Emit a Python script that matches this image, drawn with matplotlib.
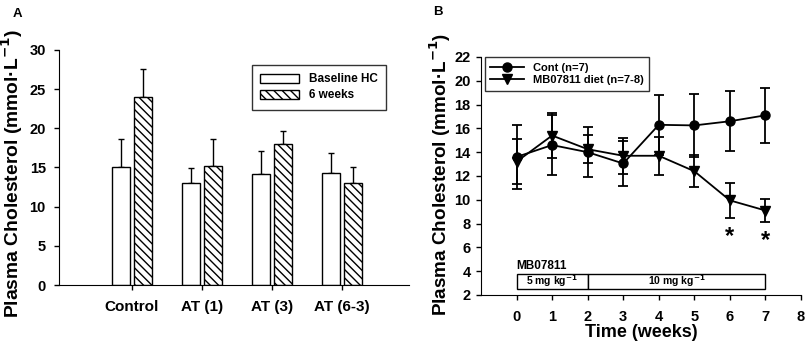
import matplotlib
matplotlib.use("Agg")
import matplotlib.pyplot as plt
import numpy as np
from matplotlib.patches import Rectangle
from matplotlib.lines import Line2D

plt.rcParams['font.family'] = ['Liberation Sans', 'DejaVu Sans']
plt.rcParams['font.weight'] = 'bold'
plt.rcParams['hatch.linewidth'] = 1.0

# Panel A data
groups = ["Control", "AT (1)", "AT (3)", "AT (6-3)"]
baseline = [15.0, 13.0, 14.2, 14.3]
baseline_err = [3.7, 1.9, 2.9, 2.5]
six_weeks = [24.0, 15.2, 18.0, 13.0]
six_weeks_err = [3.6, 3.4, 1.6, 2.0]

# Panel B data
weeks = [0, 1, 2, 3, 4, 5, 6, 7]
cont = [13.6, 14.6, 14.0, 13.05, 16.3, 16.25, 16.6, 17.1]
cont_err = [2.7, 2.5, 2.1, 1.9, 2.5, 2.65, 2.5, 2.3]
mb = [13.2, 15.4, 14.25, 13.7, 13.7, 12.4, 9.95, 9.1]
mb_err = [1.9, 1.9, 1.2, 1.5, 1.6, 1.35, 1.45, 0.95]
sig_weeks = [6, 7]
sig_y = [6.9, 6.6]

ylabel = "Plasma Cholesterol (mmol·L$^{\\mathbf{-1}}$)"

fig = plt.figure(figsize=(8.07, 3.41), dpi=100)

# ---------- Panel A ----------
axA = fig.add_axes([0.0731, 0.1642, 0.4337, 0.6892])
x = np.arange(1, len(groups) + 1)
w = 0.25
off = 0.155
axA.bar(x - off, baseline, width=w, color='white', edgecolor='black', linewidth=1.0, zorder=2,
        label='Baseline HC')
axA.bar(x + off, six_weeks, width=w, color='white', edgecolor='black', linewidth=1.0, hatch='\\\\\\\\',
        zorder=2, label='6 weeks')
axA.errorbar(x - off, baseline, yerr=[np.zeros(len(x)), baseline_err], fmt='none', ecolor='black',
             elinewidth=1.0, capsize=2.5, capthick=1.0, zorder=1)
axA.errorbar(x + off, six_weeks, yerr=[np.zeros(len(x)), six_weeks_err], fmt='none', ecolor='black',
             elinewidth=1.0, capsize=2.5, capthick=1.0, zorder=1)
axA.set_xlim(-0.043, 4.957)
axA.set_ylim(0, 30)
axA.set_yticks(range(0, 31, 5))
axA.set_xticks(x)
axA.set_xticklabels(groups)
for s in ['top', 'right']:
    axA.spines[s].set_visible(False)
axA.tick_params(axis='both', direction='out', length=3.5, width=1.0, labelsize=10.5)
axA.tick_params(axis='x', pad=7, labelsize=11)
axA.tick_params(axis='y', pad=6)
labA = axA.set_ylabel(ylabel, fontsize=12.5, fontweight='bold')
axA.yaxis.set_label_coords(-0.097, 0.474)
legA = axA.legend(loc='upper right', bbox_to_anchor=(0.934, 0.936), borderaxespad=0,
                  frameon=True, fancybox=False, edgecolor='black', fontsize=8.5,
                  handlelength=3.3, handleheight=0.8, handletextpad=0.8, borderpad=0.7,
                  labelspacing=0.35)
legA.get_frame().set_linewidth(1.0)
fig.text(0.016, 0.950, "A", fontsize=9.5, fontweight='bold')

# ---------- Panel B ----------
axB = fig.add_axes([0.5960, 0.1349, 0.3966, 0.6980])
axB.errorbar(weeks, cont, yerr=cont_err, fmt='-o', color='black', ms=6.5, lw=1.3,
             elinewidth=1.3, capsize=3.5, capthick=1.3, zorder=3)
axB.errorbar(weeks, mb, yerr=mb_err, fmt='-v', color='black', ms=6.5, lw=1.3,
             elinewidth=1.3, capsize=3.5, capthick=1.3, zorder=3)
for wk, yy in zip(sig_weeks, sig_y):
    axB.text(wk, yy, "*", ha='center', va='center', fontsize=17, fontweight='bold')

axB.set_xlim(-1, 8)
axB.set_ylim(2, 22)
axB.set_xticks(range(0, 9))
axB.set_yticks(range(2, 23, 2))
for s in ['top', 'right']:
    axB.spines[s].set_visible(False)
axB.tick_params(axis='both', direction='out', length=3.5, width=1.0, labelsize=10.5)
axB.tick_params(axis='x', pad=7)
axB.tick_params(axis='y', pad=4)
labB = axB.set_ylabel(ylabel, fontsize=12.5, fontweight='bold')
axB.yaxis.set_label_coords(-0.087, 0.508)
axB.set_xlabel("Time (weeks)", fontsize=13, fontweight='bold', labelpad=0)

# dosing bar
axB.add_patch(Rectangle((0, 2.5), 2, 1.3, facecolor='white', edgecolor='black', lw=1.0, zorder=2,
                        clip_on=False))
axB.add_patch(Rectangle((2, 2.5), 5, 1.3, facecolor='white', edgecolor='black', lw=1.0, zorder=2,
                        clip_on=False))
axB.text(1, 3.15, "5 mg kg$^{\\mathbf{-1}}$", ha='center', va='center', fontsize=7.5, fontweight='bold')
axB.text(4.5, 3.15, "10 mg kg$^{\\mathbf{-1}}$", ha='center', va='center', fontsize=7.5, fontweight='bold')
axB.text(0, 4.4, "MB07811", ha='left', va='center', fontsize=8.5, fontweight='bold')

handles = [Line2D([], [], color='black', lw=1.3, marker='o', ms=6.5),
           Line2D([], [], color='black', lw=1.3, marker='v', ms=6.5)]
legB = axB.legend(handles, ['Cont (n=7)', 'MB07811 diet (n=7-8)'], loc='upper left',
                  bbox_to_anchor=(0.012, 1.0), borderaxespad=0,
                  frameon=True, fancybox=False, edgecolor='black', fontsize=8,
                  handlelength=3.0, borderpad=0.5, labelspacing=0.25)
legB.get_frame().set_linewidth(1.0)
fig.text(0.5365, 0.956, "B", fontsize=9.5, fontweight='bold')

# fit y-label lengths to the reference (pixels)
fig.canvas.draw()
r = fig.canvas.get_renderer()
for lab, target in ((labA, 289.0), (labB, 282.0)):
    for _ in range(3):
        h = lab.get_window_extent(r).height
        lab.set_fontsize(lab.get_fontsize() * target / h)
        fig.canvas.draw()

fig.savefig("out.png", dpi=100)
